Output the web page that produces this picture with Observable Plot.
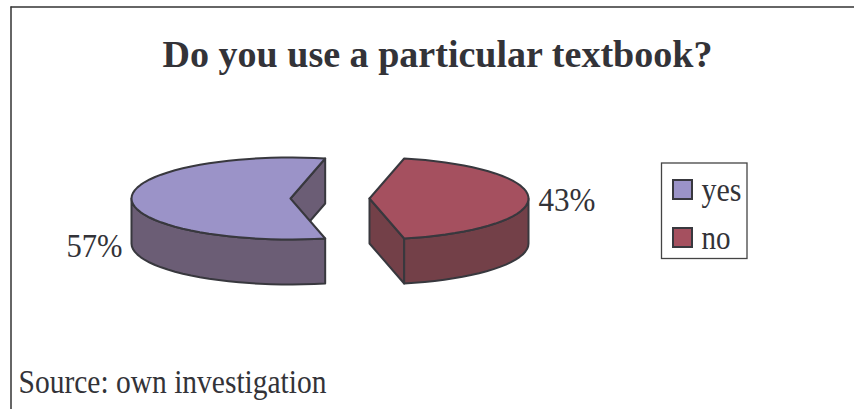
<!DOCTYPE html>
<html>
<head>
<meta charset="utf-8">
<script src="https://cdn.jsdelivr.net/npm/d3@7"></script>
<script src="https://cdn.jsdelivr.net/npm/@observablehq/plot@0.6"></script>
<style>
  html, body { margin: 0; padding: 0; background: #fff; overflow: hidden; }
  svg { display: block; }
</style>
</head>
<body>
<script>
// Survey answers
const categories = ["yes", "no"];
const shares = [57, 43];
const titleText = "Do you use a particular textbook?";
const sourceText = "Source: own investigation";

// Colours of the top and side of each slice
const topColors = ["#9b93c8", "#a5505f"];
const sideColors = ["#6b5d75", "#734048"];
const ink = "#333338";
const serif = "'Liberation Serif', 'Times New Roman', serif";

// Pie geometry in chart units
const rx = 159, ry = 41, depth = 45;
const midX = 329.5, midY = 198, explode = 39.5;

// Slices run clockwise, with "no" centred on the right-hand side
const total = d3.sum(shares);
const sweep = shares.map(s => (s / total) * 360);
const startAngle = 90 + sweep[1] / 2;
const slices = [
  {i: 0, a0: startAngle, a1: startAngle + sweep[0], cx: midX - explode},
  {i: 1, a0: startAngle + sweep[0] - 360, a1: startAngle + sweep[0] - 360 + sweep[1], cx: midX + explode}
];

const rad = a => (a * Math.PI) / 180;
const rimPoint = (s, a, drop = 0) => ({
  x: s.cx + rx * Math.sin(rad(a)),
  y: midY - ry * Math.cos(rad(a)) + drop
});
const arc = (s, from, to, drop = 0) => {
  const n = Math.max(2, Math.ceil(Math.abs(to - from) / 4));
  return d3.range(n + 1).map(k => rimPoint(s, from + ((to - from) * k) / n, drop));
};
const closed = pts => [...pts, pts[0]];
const hub = s => ({x: s.cx, y: midY});
const sunk = p => ({x: p.x, y: p.y + depth});

// Outer wall: the part of the rim that faces the viewer
function outerWall(s) {
  const from = Math.max(s.a0, 90), to = Math.min(s.a1, 270);
  return closed([...arc(s, from, to), ...arc(s, to, from, depth)]);
}
// Cut wall: the radial face along a slice edge
function cutWall(s, a) {
  const rim = rimPoint(s, a);
  return closed([hub(s), rim, sunk(rim), sunk(hub(s))]);
}
const topFace = s => closed([hub(s), ...arc(s, s.a0, s.a1)]);

const face = (pts, fill) =>
  Plot.line(pts, {x: "x", y: "y", fill, stroke: "#38383e", strokeWidth: 2, strokeLinejoin: "round"});

const pieMarks = [
  face(cutWall(slices[0], slices[0].a1), sideColors[0]),
  face(outerWall(slices[0]), sideColors[0]),
  face(topFace(slices[0]), topColors[0]),
  face(cutWall(slices[1], slices[1].a1), sideColors[1]),
  face(outerWall(slices[1]), sideColors[1]),
  face(topFace(slices[1]), topColors[1])
];

// Legend layout
const legendRows = categories.map((name, i) => ({name, i, color: topColors[i], top: 180 + i * 48}));

const label = (text, x, y, size, anchor = "start", weight = "normal") =>
  Plot.text([text], {
    x: () => x, y: () => y, text: d => d,
    fontSize: size, fontFamily: serif, fontWeight: weight,
    textAnchor: anchor, lineAnchor: "bottom", fill: ink
  });

const chart = Plot.plot({
  width: 854,
  height: 409,
  margin: 0,
  x: {domain: [0, 854], range: [0, 854], axis: null},
  y: {domain: [0, 409], range: [0, 409], axis: null},
  marks: [
    // Outer frame: only the top and left edges show
    Plot.ruleY([6.5], {x1: 10.5, x2: 854, stroke: "#333", strokeWidth: 1.5}),
    Plot.ruleX([10.5], {y1: 6.5, y2: 409, stroke: "#333", strokeWidth: 1.5}),

    label(titleText, 437, 66, 38, "middle", "bold"),
    ...pieMarks,

    label(`${shares[0]}%`, 122, 256, 33, "end"),
    label(`${shares[1]}%`, 538, 210, 33, "start"),

    // Legend box, swatches and names
    Plot.rect([0], {x1: () => 661.5, x2: () => 747, y1: () => 163, y2: () => 258.5, fill: "#fff", stroke: "#444", strokeWidth: 1.3}),
    Plot.rect(legendRows, {
      x1: () => 673, x2: () => 692,
      y1: d => d.top, y2: d => d.top + 19,
      fill: "color", stroke: "#38383e", strokeWidth: 2
    }),
    Plot.text(legendRows, {
      x: () => 701, y: d => d.top + 20, text: "name",
      fontSize: 33, fontFamily: serif, textAnchor: "start", lineAnchor: "bottom", fill: ink
    }),

    label(sourceText, 18, 392, 34)
  ]
});

// The captions are set in a condensed cut of the serif
const condensedWidths = new Map([
  [titleText, 550],
  [sourceText, 308],
  [`${shares[0]}%`, 56],
  [`${shares[1]}%`, 57],
  [categories[0], 40],
  [categories[1], 29]
]);
d3.select(chart).selectAll("text").each(function () {
  const w = condensedWidths.get(this.textContent);
  if (w) d3.select(this).attr("textLength", w).attr("lengthAdjust", "spacingAndGlyphs");
});

document.body.appendChild(chart);
</script>
</body>
</html>
